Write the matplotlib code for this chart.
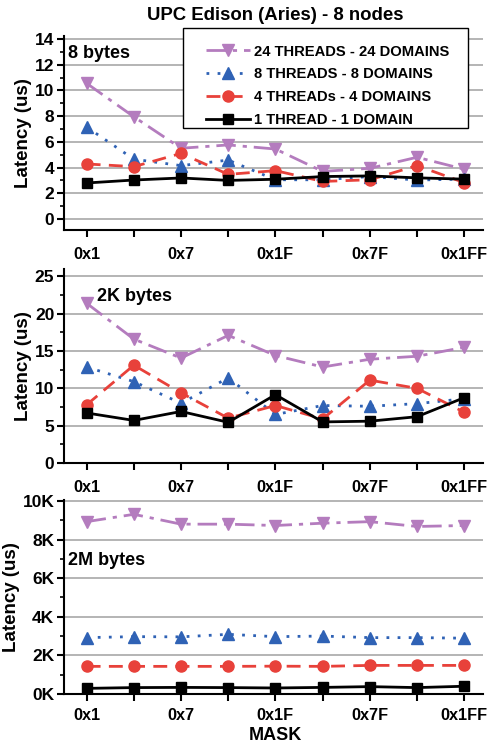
import numpy as np
import matplotlib
matplotlib.use("Agg")
import matplotlib.pyplot as plt
from matplotlib.patches import Rectangle
from matplotlib.ticker import MultipleLocator, FuncFormatter

plt.rcParams['font.family'] = ['Liberation Sans', 'DejaVu Sans']
plt.rcParams['font.weight'] = 'bold'

masks = ['0x1', '0x3', '0x7', '0xF', '0x1F', '0x3F', '0x7F', '0xFF', '0x1FF']

series_names = ['24 THREADS - 24 DOMAINS', '8 THREADS - 8 DOMAINS',
                '4 THREADs - 4 DOMAINS', '1 THREAD - 1 DOMAIN']

# 8 bytes
lat_8b_24 = [10.55, 7.95, 5.5, 5.76, 5.44, 3.7, 3.94, 4.8, 3.87]
lat_8b_8 = [7.15, 4.65, 4.15, 4.58, 3.05, 3.05, 3.3, 3.03, 3.1]
lat_8b_4 = [4.28, 4.07, 5.1, 3.47, 3.76, 2.92, 3.05, 4.15, 2.83]
lat_8b_1 = [2.8, 3.03, 3.19, 3.0, 3.09, 3.3, 3.35, 3.2, 3.1]

# 2K bytes
lat_2k_24 = [21.4, 16.6, 14.06, 17.1, 14.4, 12.86, 13.9, 14.3, 15.5]
lat_2k_8 = [12.86, 10.9, 8.0, 11.4, 6.5, 7.7, 7.6, 7.95, 8.6]
lat_2k_4 = [7.8, 13.1, 9.4, 6.0, 7.7, 5.9, 11.1, 10.0, 6.8]
lat_2k_1 = [6.7, 5.7, 6.9, 5.45, 9.15, 5.5, 5.6, 6.2, 8.75]

# 2M bytes
lat_2m_24 = [8930, 9310, 8800, 8800, 8730, 8850, 8930, 8680, 8730]
lat_2m_8 = [2920, 2970, 2960, 3090, 2970, 3000, 2920, 2920, 2890]
lat_2m_4 = [1430, 1430, 1430, 1430, 1440, 1430, 1480, 1480, 1480]
lat_2m_1 = [290, 330, 340, 330, 310, 340, 380, 330, 400]

styles = [
    dict(color='#b47cbe', linestyle=(0, (7, 2.5, 1.5, 2.5)), marker='v', markersize=8),
    dict(color='#2f62b5', linestyle=(0, (1, 3)), marker='^', markersize=8),
    dict(color='#e8413a', linestyle=(0, (5, 3)), marker='o', markersize=8),
    dict(color='black', linestyle='-', marker='s', markersize=7),
]

panels = [
    dict(data=[lat_8b_24, lat_8b_8, lat_8b_4, lat_8b_1], ylim=(-0.86, 14.23),
         major=2, minor=1, label='8 bytes', lab_xy=(0.01, 0.885), kfmt=False,
         rect=[0.1309, 0.6904, 0.857, 0.2611], xpad=7),
    dict(data=[lat_2k_24, lat_2k_8, lat_2k_4, lat_2k_1], ylim=(0, 26.0),
         major=5, minor=2.5, label='2K bytes', lab_xy=(0.079, 0.837), kfmt=False,
         rect=[0.1309, 0.3769, 0.857, 0.2611], xpad=7),
    dict(data=[lat_2m_24, lat_2m_8, lat_2m_4, lat_2m_1], ylim=(0, 10050),
         major=2000, minor=1000, label='2M bytes', lab_xy=(0.01, 0.667), kfmt=True,
         rect=[0.1309, 0.0660, 0.857, 0.2610], xpad=5),
]

fig = plt.figure(figsize=(4.89, 7.43), dpi=100)
x = np.arange(len(masks))
handles = []

for p in panels:
    ax = fig.add_axes(p['rect'])
    for vals, st, name in zip(p['data'], styles, series_names):
        h, = ax.plot(x, vals, linewidth=2, label=name, zorder=3, **st)
        if len(handles) < 4:
            handles.append(h)
    ax.set_xlim(-0.48, 8.4)
    ax.set_ylim(*p['ylim'])
    ax.yaxis.set_major_locator(MultipleLocator(p['major']))
    ax.yaxis.set_minor_locator(MultipleLocator(p['minor']))
    if p['kfmt']:
        ax.yaxis.set_major_formatter(FuncFormatter(lambda v, pos: '%dK' % round(v / 1000)))
    ax.set_xticks(x)
    ax.set_xticklabels([m if i % 2 == 0 else '' for i, m in enumerate(masks)])
    ax.grid(axis='y', which='major', color='#a8a8a8', linewidth=1.2, zorder=0)
    for s in ['top', 'right']:
        ax.spines[s].set_visible(False)
    for s in ['left', 'bottom']:
        ax.spines[s].set_linewidth(1.5)
    ax.tick_params(axis='both', which='major', width=1.5, length=5, direction='out')
    ax.tick_params(axis='y', which='major', labelsize=12.5, pad=2)
    ax.tick_params(axis='x', which='major', labelsize=11.7, pad=p['xpad'])
    ax.tick_params(axis='y', which='minor', width=1.2, length=3, direction='out')
    ax.set_ylabel('Latency (us)', fontsize=13.5, fontweight='bold', labelpad=2)
    ax.text(p['lab_xy'][0], p['lab_xy'][1], p['label'], transform=ax.transAxes,
            fontsize=13, fontweight='bold', va='baseline')

# x axis title placed directly under the last panel
fig.text(0.563, 0.004, 'MASK', fontsize=13, fontweight='bold', ha='center', va='baseline')

fig.suptitle('UPC Edison (Aries) - 8 nodes', fontsize=13.4, fontweight='bold',
             x=0.563, y=0.991)

# legend box drawn separately (extra room above the first entry)
W, H = 489, 743
box = Rectangle((183 / W, 1 - 128 / H), 285 / W, 100 / H, transform=fig.transFigure,
                facecolor='white', edgecolor='black', linewidth=1.0, zorder=5)
fig.patches.append(box)

leg = fig.legend(handles=handles, loc='upper left', bbox_to_anchor=(0.406, 0.950),
                 fontsize=10.6, frameon=False, handlelength=3.0, labelspacing=0.6,
                 borderpad=0.0, handletextpad=0.25)
leg.set_zorder(6)

fig.savefig('out.png', dpi=100)
